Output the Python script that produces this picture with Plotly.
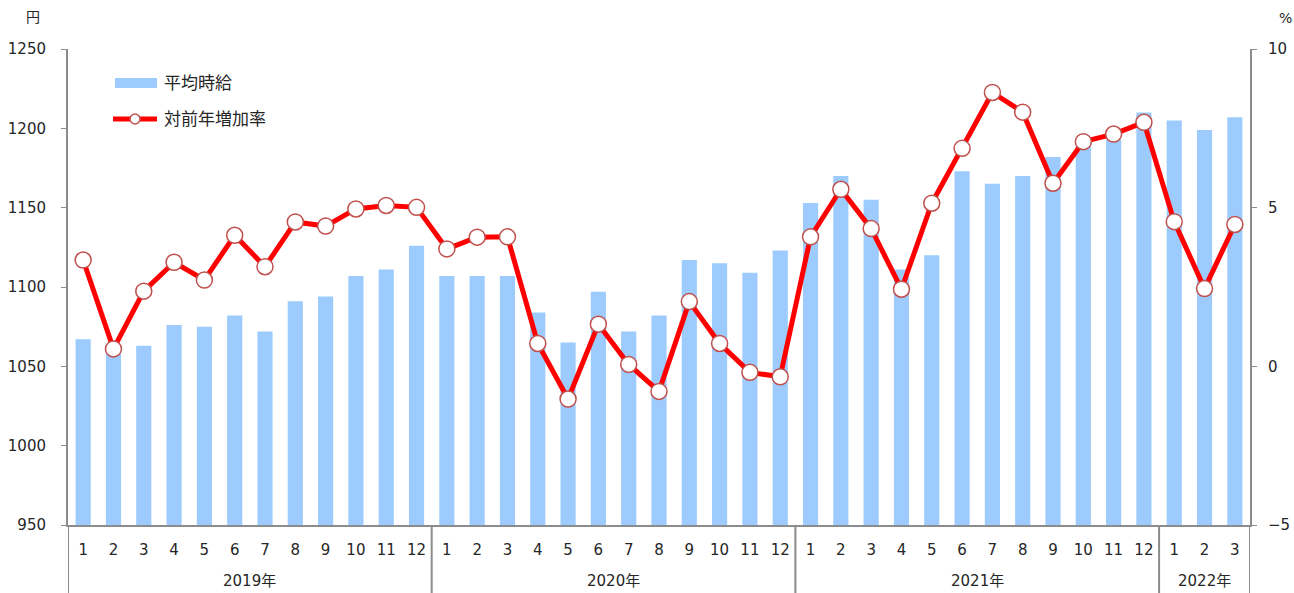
import plotly.graph_objects as go

year_names = ["2019年", "2020年", "2021年", "2022年"]
year_counts = [12, 12, 12, 3]
months = [str(m) for m in range(1, 13)] * 3 + ["1", "2", "3"]

wage = [1067, 1062, 1063, 1076, 1075, 1082, 1072, 1091, 1094, 1107, 1111, 1126,
        1107, 1107, 1107, 1084, 1065, 1097, 1072, 1082, 1117, 1115, 1109, 1123,
        1153, 1170, 1155, 1111, 1120, 1173, 1165, 1170, 1182, 1189, 1193, 1210,
        1205, 1199, 1207]
growth = [3.35, 0.55, 2.37, 3.28, 2.72, 4.13, 3.14, 4.55, 4.42, 4.96, 5.07, 5.01,
          3.70, 4.07, 4.08, 0.72, -1.03, 1.33, 0.06, -0.79, 2.04, 0.72, -0.19, -0.33,
          4.08, 5.58, 4.34, 2.43, 5.14, 6.87, 8.63, 8.01, 5.77, 7.08, 7.32, 7.69,
          4.56, 2.45, 4.47]

font_main = "DejaVu Sans, Noto Sans CJK JP, sans-serif"
axis_col = "#8c8c8c"
bar_col = "#9dcbfd"
line_col = "#ff0000"
mk_edge = "#c0504d"

W, H = 1294, 593
ML, MR, MT, MB = 68, 44, 49, 68
PW, PH = W - ML - MR, H - MT - MB

def px_x(px):
    return (px - ML) / PW

def px_y(py):
    return (H - MB - py) / PH

idx = list(range(len(months)))

fig = go.Figure()
fig.add_trace(go.Bar(x=idx, y=wage, name="平均時給", showlegend=False,
                     marker=dict(color=bar_col, line=dict(width=0))))
fig.add_trace(go.Scatter(x=idx, y=growth, name="対前年増加率", yaxis="y2",
                         mode="lines+markers", showlegend=False,
                         line=dict(color=line_col, width=5),
                         marker=dict(symbol="circle", size=16, color="white",
                                     line=dict(color=mk_edge, width=1.5))))

shapes = []
annotations = []

# year group labels and dividers
start = 0
bounds = [-0.5]
for name, cnt in zip(year_names, year_counts):
    center = start + (cnt - 1) / 2
    annotations.append(dict(text=name, x=center, xref="x", y=px_y(581), yref="paper",
                            showarrow=False, xanchor="center", yanchor="middle",
                            font=dict(size=15)))
    start += cnt
    bounds.append(start - 0.5)
for b in bounds:
    shapes.append(dict(type="line", xref="x", yref="paper", x0=b, x1=b,
                       y0=0, y1=px_y(593), line=dict(color=axis_col, width=2)))

# manual legend
shapes.append(dict(type="rect", xref="paper", yref="paper",
                   x0=px_x(115), x1=px_x(157), y0=px_y(88), y1=px_y(78),
                   fillcolor=bar_col, line=dict(width=0)))
shapes.append(dict(type="line", xref="paper", yref="paper",
                   x0=px_x(113), x1=px_x(157), y0=px_y(119), y1=px_y(119),
                   line=dict(color=line_col, width=5)))
shapes.append(dict(type="circle", xref="paper", yref="paper",
                   x0=px_x(130), x1=px_x(140), y0=px_y(124), y1=px_y(114),
                   fillcolor="white", line=dict(color=mk_edge, width=1.5)))
annotations.append(dict(text="平均時給", xref="paper", yref="paper", x=px_x(162),
                        y=px_y(83), xanchor="left", yanchor="middle", showarrow=False,
                        font=dict(size=17)))
annotations.append(dict(text="対前年増加率", xref="paper", yref="paper", x=px_x(162),
                        y=px_y(119), xanchor="left", yanchor="middle", showarrow=False,
                        font=dict(size=17)))

# axis unit labels
annotations.append(dict(text="円", xref="paper", yref="paper", x=px_x(33), y=px_y(17),
                        xanchor="center", yanchor="middle", showarrow=False,
                        font=dict(size=14)))
annotations.append(dict(text="%", xref="paper", yref="paper", x=px_x(1285), y=px_y(18),
                        xanchor="center", yanchor="middle", showarrow=False,
                        font=dict(size=14)))

fig.update_layout(
    width=W, height=H,
    margin=dict(l=ML, r=MR, t=MT, b=MB, autoexpand=False),
    plot_bgcolor="white", paper_bgcolor="white",
    font=dict(family=font_main, size=15, color="#262626"),
    bargap=0.5,
    showlegend=False,
    xaxis=dict(range=[-0.5, len(months) - 0.5], tickmode="array", tickvals=idx,
               ticktext=months, showline=True, linecolor=axis_col, linewidth=2,
               ticks="", showgrid=False, zeroline=False, automargin=False,
               ticklabelstandoff=10, tickfont=dict(size=15)),
    yaxis=dict(range=[950, 1250], dtick=50, showline=True, linecolor=axis_col,
               linewidth=2, ticks="outside", ticklen=5, tickcolor=axis_col,
               showgrid=False, zeroline=False, automargin=False,
               ticklabelstandoff=12, tickfont=dict(size=15)),
    yaxis2=dict(range=[-5, 10], dtick=5, overlaying="y", side="right", showline=True,
                linecolor=axis_col, linewidth=2, ticks="outside", ticklen=5,
                tickcolor=axis_col, showgrid=False, zeroline=False, automargin=False,
                ticklabelstandoff=8, tickfont=dict(size=15)),
    shapes=shapes,
    annotations=annotations,
)

fig.write_html("out.html", config={"displayModeBar": False},
               post_script="document.body.style.margin='0';document.body.style.overflow='hidden';")
